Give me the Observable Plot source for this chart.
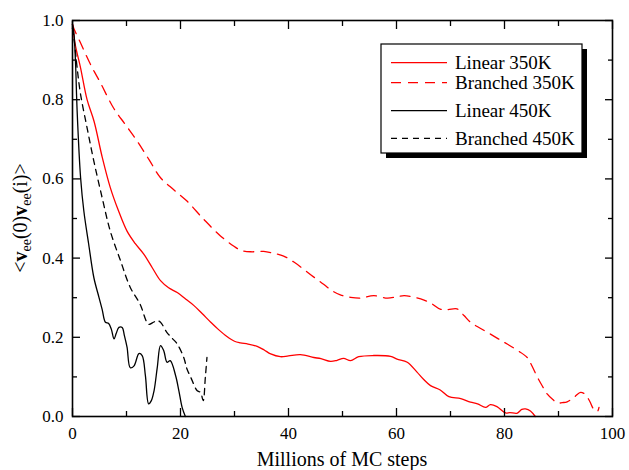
<!DOCTYPE html>
<html><head><meta charset="utf-8">
<script src="https://cdn.jsdelivr.net/npm/d3@7"></script>
<script src="https://cdn.jsdelivr.net/npm/@observablehq/plot@0.6"></script>
<style>
body{margin:0;background:#fff;}
svg text, svg tspan { font-family: "Liberation Serif", "Times New Roman", Times, serif !important; }
</style>
</head><body><div id="chart"></div>
<script>
// ---- data ----
const linear350X = [0,0.5,1.5,2.7,4.0,5.5,7.0,8.5,10.1,11.6,13.2,14.8,16.3,17.8,19.4,21,22.5,24,25.6,27,28.6,30,31.1,32.5,34.2,35.5,36.7,38.5,40,42.2,44.7,46,47.8,49,50.2,51.5,53,55.8,58.9,60.1,62,63.8,65,66.3,68.1,69.7,71.9,73.7,75,76.5,77.4,78.6,80.2,81,82.3,83.2,83.9,84.8,85.7];
const linear350Y = [0.99,0.94,0.88,0.80,0.745,0.655,0.578,0.52,0.468,0.437,0.41,0.375,0.343,0.325,0.313,0.296,0.28,0.26,0.238,0.22,0.202,0.19,0.186,0.183,0.177,0.168,0.158,0.151,0.153,0.156,0.149,0.146,0.139,0.142,0.147,0.141,0.151,0.154,0.152,0.145,0.137,0.112,0.094,0.078,0.067,0.050,0.045,0.036,0.032,0.023,0.030,0.025,0.009,0.010,0.008,0.018,0.019,0.014,0.0];

const branched350X = [0,0.25,1.5,3.3,5.2,7.6,9.8,12.0,14.2,16.3,18.8,21.2,24.3,27.4,29.9,31.1,33,35.4,37,39.1,41,42.8,44.7,46.5,48,49.6,51.5,53.3,55.8,58.3,60,61.4,63,65.1,66.5,68.1,69.5,71.2,72.5,73.7,75.5,77.4,79,80.5,82.4,84.2,85,86.1,87,87.9,89,89.8,90.7,91.6,93,94.1,95,95.8,96.5,97.2,97.5];
const branched350Y = [0.99,0.98,0.943,0.89,0.842,0.779,0.737,0.695,0.648,0.603,0.572,0.544,0.498,0.456,0.43,0.42,0.416,0.417,0.413,0.405,0.39,0.372,0.352,0.334,0.318,0.307,0.301,0.299,0.305,0.299,0.302,0.305,0.302,0.294,0.285,0.271,0.270,0.272,0.255,0.238,0.223,0.208,0.195,0.183,0.167,0.149,0.13,0.099,0.077,0.057,0.042,0.034,0.035,0.037,0.05,0.061,0.055,0.038,0.019,0.013,0.023];

const linear450X = [0,0.25,0.55,0.86,1.5,2.1,3.0,3.95,4.9,5.5,6.1,6.7,7.2,7.7,8.1,8.6,9.2,9.6,10.1,10.7,11.4,12.3,12.9,13.5,14.1,14.6,15.1,15.7,16.3,16.9,17.5,18.1,19.1,19.7,20.3,20.9];
const linear450Y = [0.99,0.97,0.897,0.771,0.603,0.519,0.435,0.351,0.301,0.27,0.238,0.235,0.22,0.196,0.21,0.225,0.225,0.205,0.175,0.123,0.128,0.159,0.154,0.103,0.032,0.04,0.065,0.124,0.179,0.166,0.137,0.141,0.103,0.065,0.023,0.0];

const branched450X = [0,0.4,0.86,1.5,2.7,3.95,5.5,7.0,8.9,10.7,12.5,14.1,15.0,15.7,16.3,17.5,18.5,19.4,20.6,21.2,21.9,23.1,23.7,24.2,24.6,24.9];
const branched450Y = [0.98,0.94,0.88,0.813,0.729,0.645,0.552,0.468,0.393,0.326,0.284,0.233,0.238,0.242,0.238,0.212,0.197,0.183,0.149,0.12,0.099,0.065,0.061,0.04,0.099,0.149];

const seriesNames = ["Linear 350K","Branched 350K","Linear 450K","Branched 450K"];
const seriesColors = ["#ff0000","#ff0000","#000000","#000000"];
const seriesDash = [null,"10,7",null,"6,5"];
const seriesXs = [linear350X, branched350X, linear450X, branched450X];
const seriesYs = [linear350Y, branched350Y, linear450Y, branched450Y];

const xMajor = [0,20,40,60,80,100];
const xMinor = [10,30,50,70,90];
const yMajor = [0,0.2,0.4,0.6,0.8,1.0];
const yMinor = [0.1,0.3,0.5,0.7,0.9];
const yTickLabels = ["0.0","0.2","0.4","0.6","0.8","1.0"];
const xTickLabels = ["0","20","40","60","80","100"];
const xTitle = "Millions of MC steps";

// ---- chart ----
const W = 629, H = 470, mL = 72, mR = 17, mT = 20, mB = 54;
const FONT = "Liberation Serif, Times New Roman, serif";
const rows = seriesNames.flatMap((name, k) => seriesXs[k].map((x, i) => ({series: name, x, y: seriesYs[k][i]})));
const noText = () => "";

const plot = Plot.plot({
  width: W, height: H,
  marginLeft: mL, marginRight: mR, marginTop: mT, marginBottom: mB,
  x: {domain: [0, 100]},
  y: {domain: [0, 1]},
  style: {fontFamily: FONT, fontSize: "17px", background: "#fff", color: "#000"},
  marks: [
    ...seriesNames.map((name, k) => Plot.line(rows.filter(r => r.series === name), {
      x: "x", y: "y", stroke: seriesColors[k], strokeWidth: 1.3,
      strokeDasharray: seriesDash[k], curve: "catmull-rom"
    })),
    Plot.axisX(xMajor, {anchor: "bottom", tickSize: -8, tickPadding: 18, tickFormat: d => xTickLabels[xMajor.indexOf(d)], label: null, strokeWidth: 1.3}),
    Plot.axisX(xMinor, {anchor: "bottom", tickSize: -5, tickFormat: noText, label: null, strokeWidth: 1.3}),
    Plot.axisX(xMajor, {anchor: "top", tickSize: -8, tickFormat: noText, label: null, strokeWidth: 1.3}),
    Plot.axisX(xMinor, {anchor: "top", tickSize: -5, tickFormat: noText, label: null, strokeWidth: 1.3}),
    Plot.axisY(yMajor, {anchor: "left", tickSize: -8, tickPadding: 17, tickFormat: d => yTickLabels[yMajor.indexOf(d)], label: null, strokeWidth: 1.3}),
    Plot.axisY(yMinor, {anchor: "left", tickSize: -5, tickFormat: noText, label: null, strokeWidth: 1.3}),
    Plot.axisY(yMajor, {anchor: "right", tickSize: -8, tickFormat: noText, label: null, strokeWidth: 1.3}),
    Plot.axisY(yMinor, {anchor: "right", tickSize: -5, tickFormat: noText, label: null, strokeWidth: 1.3}),
    Plot.frame({stroke: "#000", strokeWidth: 1.6})
  ]
});

const svg = d3.select(plot);

// x title
svg.append("text")
  .attr("x", (mL + W - mR) / 2).attr("y", 466)
  .attr("text-anchor", "middle")
  .attr("font-family", FONT).attr("font-size", 20).attr("fill", "#000")
  .text(xTitle);

// y title: <v_ee(0)v_ee(i)>
const yt = svg.append("text")
  .attr("transform", `translate(27,${(mT + H - mB) / 2}) rotate(-90)`)
  .attr("text-anchor", "middle")
  .attr("font-family", FONT).attr("font-size", 20).attr("fill", "#000");
yt.append("tspan").text("<");
yt.append("tspan").attr("font-weight", "bold").text("v");
yt.append("tspan").attr("font-size", 14).attr("dy", 4).text("ee");
yt.append("tspan").attr("dy", -4).text("(0)");
yt.append("tspan").attr("font-weight", "bold").text("v");
yt.append("tspan").attr("font-size", 14).attr("dy", 4).text("ee");
yt.append("tspan").attr("dy", -4).text("(i)>");

// legend
const legendRowsY = [62.7, 82.7, 110.7, 138.3];
const lg = svg.append("g").attr("text-anchor", "start");
lg.append("rect").attr("x", 386).attr("y", 49).attr("width", 201).attr("height", 109).attr("fill", "#000");
lg.append("rect").attr("x", 381).attr("y", 44).attr("width", 201).attr("height", 109)
  .attr("fill", "#fff").attr("stroke", "#000").attr("stroke-width", 1.2);
seriesNames.forEach((name, k) => {
  const yy = legendRowsY[k];
  lg.append("line").attr("x1", 391).attr("x2", 447).attr("y1", yy).attr("y2", yy)
    .attr("stroke", seriesColors[k]).attr("stroke-width", 1.3)
    .attr("stroke-dasharray", seriesDash[k]);
  lg.append("text").attr("x", 455).attr("y", yy + 6.5).attr("text-anchor", "start")
    .attr("font-family", FONT).attr("font-size", 19).attr("fill", "#000").text(name);
});

document.getElementById("chart").appendChild(plot);
</script>
</body></html>
